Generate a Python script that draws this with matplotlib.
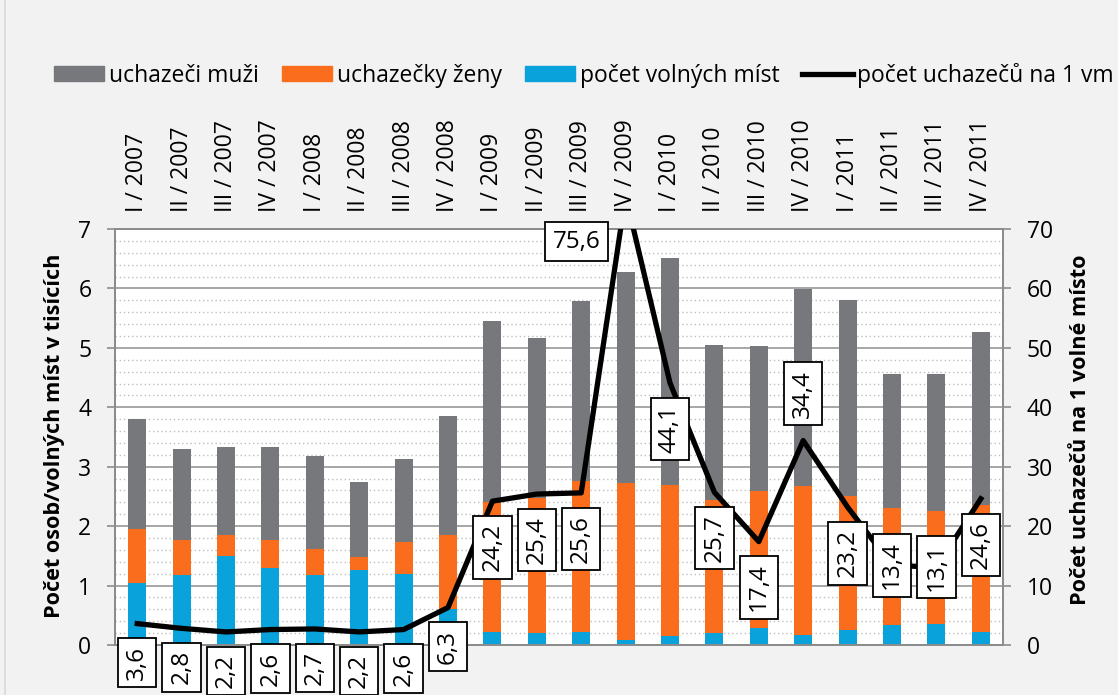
import matplotlib as mpl
mpl.use('Agg')
import matplotlib.pyplot as plt
from matplotlib import ticker
from matplotlib.lines import Line2D
import numpy as np

plt.rcParams['font.family'] = ['Open Sans', 'DejaVu Sans']

periods = ["I / 2007", "II / 2007", "III / 2007", "IV / 2007",
           "I / 2008", "II / 2008", "III / 2008", "IV / 2008",
           "I / 2009", "II / 2009", "III / 2009", "IV / 2009",
           "I / 2010", "II / 2010", "III / 2010", "IV / 2010",
           "I / 2011", "II / 2011", "III / 2011", "IV / 2011"]
# thousands: women applicants, all applicants (men on top of women), vacancies
zeny = [1.95, 1.77, 1.85, 1.77, 1.62, 1.48, 1.74, 1.85,
        2.41, 2.47, 2.76, 2.72, 2.70, 2.44, 2.59, 2.68,
        2.51, 2.30, 2.26, 2.36]
celkem = [3.80, 3.30, 3.34, 3.34, 3.18, 2.75, 3.13, 3.86,
          5.45, 5.17, 5.79, 6.27, 6.52, 5.05, 5.03, 5.99,
          5.80, 4.56, 4.56, 5.27]
mista = [1.04, 1.17, 1.50, 1.30, 1.17, 1.26, 1.19, 0.60,
         0.225, 0.203, 0.226, 0.083, 0.148, 0.196, 0.289, 0.174,
         0.25, 0.34, 0.348, 0.214]
na_misto = [3.6, 2.8, 2.2, 2.6, 2.7, 2.2, 2.6, 6.3,
            24.2, 25.4, 25.6, 75.6, 44.1, 25.7, 17.4, 34.4,
            23.2, 13.4, 13.1, 24.6]
muzi = [c - z for c, z in zip(celkem, zeny)]

GRAY = '#77787b'
ORANGE = '#f96d1d'
BLUE = '#0aa2da'
AXIS = '#8c8c8c'
FS = 16.5
LFS = 17.5

fig = plt.figure(figsize=(11.18, 6.95), dpi=100, facecolor='#f2f2f2')
ax = fig.add_axes([115/1118, 50/695, 888/1118, 416/695])
ax.set_facecolor('white')
xs = np.arange(len(periods))
w = 0.405

ax.bar(xs, zeny, w, color=ORANGE, label="uchazečky ženy", zorder=2)
ax.bar(xs, muzi, w, bottom=zeny, color=GRAY, label="uchazeči muži", zorder=2)
ax.bar(xs, mista, w, color=BLUE, label="počet volných míst", zorder=3)

ax.set_xlim(-0.5, len(periods) - 0.5)
ax.set_ylim(0, 7)
ax.yaxis.set_major_locator(ticker.MultipleLocator(1))
ax.yaxis.set_minor_locator(ticker.MultipleLocator(0.2))
ax.grid(axis='y', which='major', color='#a6a6a6', lw=1.4, zorder=0)
ax.grid(axis='y', which='minor', color='#bfbfbf', lw=1.0, ls=(0, (1, 2)), zorder=0)
ax.set_axisbelow(True)

ax.xaxis.tick_top()
ax.set_xticks(xs)
ax.set_xticklabels(periods, rotation=90, fontsize=FS)
ax.tick_params(axis='x', length=0, pad=12)
ax.tick_params(axis='y', which='major', length=6, width=1.2, color=AXIS, pad=11, labelsize=FS)
ax.tick_params(axis='y', which='minor', length=0)
for s in ax.spines.values():
    s.set_color(AXIS)
    s.set_linewidth(1.4)

ax2 = ax.twinx()
ax2.set_ylim(0, 70)
ax2.yaxis.set_major_locator(ticker.MultipleLocator(10))
ax2.tick_params(axis='y', length=6, width=1.2, color=AXIS, pad=11, labelsize=FS)
for s in ax2.spines.values():
    s.set_color(AXIS)
    s.set_linewidth(1.4)
ax2.plot(xs, na_misto, color='black', lw=3.8, solid_joinstyle='round', zorder=4,
         label="počet uchazečů na 1 vm")

# data labels: boxed, mostly below the point
box = dict(boxstyle='square,pad=0.3', fc='white', ec='black', lw=1.3)
special = {11: ((-49, -46), 0), 15: ((0, 47), 90), 17: ((0, 0), 90), 18: ((0, 0), 90)}
for i, v in enumerate(na_misto):
    txt = f"{v:.1f}".replace('.', ',')
    if i in special:
        (dx, dy), rot = special[i]
        ax2.annotate(txt, (i, v), xytext=(dx, dy), textcoords='offset pixels',
                     rotation=rot, ha='center', va='center', fontsize=LFS,
                     bbox=box, annotation_clip=False, zorder=5)
    else:
        ax2.annotate(txt, (i, v), xytext=(0, -22), textcoords='offset pixels',
                     rotation=90, ha='center', va='top', fontsize=LFS,
                     bbox=box, annotation_clip=False, zorder=5)

fig.text(55/1118, 1 - 436/695, "Počet osob/volných míst v tisících", rotation=90,
         ha='center', va='center', fontsize=15.6, fontweight='bold')
fig.text(1081/1118, 1 - 430/695, "Počet uchazečů na 1 volné místo", rotation=90,
         ha='center', va='center', fontsize=15.6, fontweight='bold')

handles = [plt.Rectangle((0, 0), 1, 1, color=GRAY), plt.Rectangle((0, 0), 1, 1, color=ORANGE),
           plt.Rectangle((0, 0), 1, 1, color=BLUE), Line2D([0], [0], color='black', lw=3.8)]
labels = ["uchazeči muži", "uchazečky ženy", "počet volných míst", "počet uchazečů na 1 vm"]
fig.legend(handles, labels, loc='center', bbox_to_anchor=(584/1118, 1 - 75/695), ncol=4,
           frameon=False, fontsize=FS, handlelength=2.2, handleheight=0.6,
           handletextpad=0.2, columnspacing=1.0, borderaxespad=0, borderpad=0)

fig.add_artist(Line2D([5/1118, 5/1118], [0, 1], color='#d9d9d9', lw=1.2))

fig.savefig("out.png", dpi=100, facecolor=fig.get_facecolor())
